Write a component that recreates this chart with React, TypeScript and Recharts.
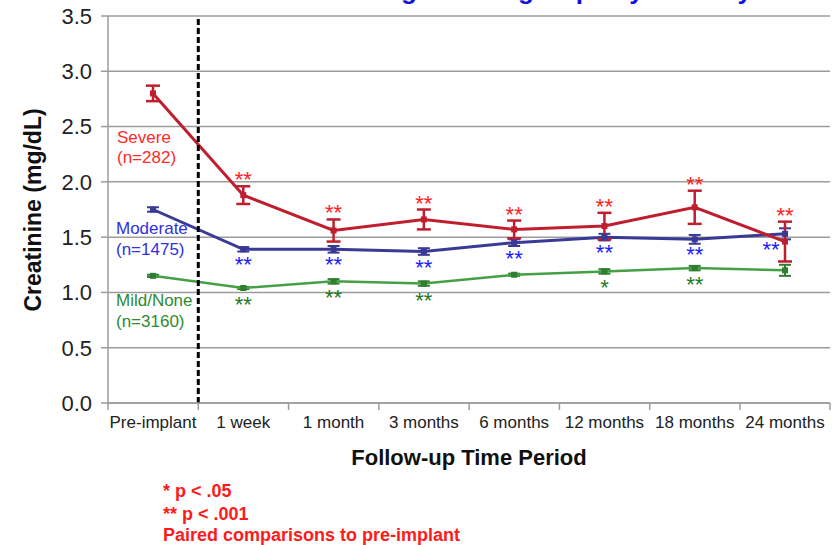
import React from 'react';
import {
  LineChart,
  Line,
  XAxis,
  YAxis,
  CartesianGrid,
  ErrorBar,
  LabelList,
  ReferenceLine,
} from 'recharts';

const periods = ['Pre-implant', '1 week', '1 month', '3 months', '6 months', '12 months', '18 months', '24 months'];

const severe = [2.8, 1.88, 1.56, 1.66, 1.57, 1.6, 1.77, 1.46];
const severeErr = [0.07, 0.08, 0.1, 0.09, 0.08, 0.12, 0.15, 0.18];
const severeSig = ['', '**', '**', '**', '**', '**', '**', '**'];

const moderate = [1.75, 1.39, 1.39, 1.37, 1.45, 1.5, 1.48, 1.53];
const moderateErr = [0.02, 0.02, 0.03, 0.03, 0.03, 0.03, 0.04, 0.05];
const moderateSig = ['', '**', '**', '**', '**', '**', '**', '**'];

const mild = [1.15, 1.04, 1.1, 1.08, 1.16, 1.19, 1.22, 1.2];
const mildErr = [0.01, 0.01, 0.02, 0.02, 0.01, 0.02, 0.02, 0.05];
const mildSig = ['', '**', '**', '**', '', '*', '**', ''];

const yTicks = [0, 0.5, 1, 1.5, 2, 2.5, 3, 3.5];

const data = periods.map((period, i) => ({
  period,
  severe: severe[i],
  severeErr: severeErr[i],
  severeTop: severe[i] + severeErr[i],
  severeSig: severeSig[i],
  moderate: moderate[i],
  moderateErr: moderateErr[i],
  moderateSig: moderateSig[i],
  mild: mild[i],
  mildErr: mildErr[i],
  mildSig: mildSig[i],
}));

const FONT = '"Liberation Sans", Arial, Helvetica, sans-serif';
const GRID = '#9c9c9c';
const HALF_STEP = 45;

const RED = '#bf1e2e';
const NAVY = '#3a3a96';
const GREEN = '#45a045';

// category label plus the boundary tick marks on either side of it
const PeriodTick = (props: any) => {
  const { x, y, payload, index } = props;
  const last = index === periods.length - 1;
  return (
    <g>
      <line x1={x - HALF_STEP} x2={x - HALF_STEP} y1={y} y2={y + 7} stroke={GRID} strokeWidth={1.5} />
      {last && <line x1={x + HALF_STEP} x2={x + HALF_STEP} y1={y} y2={y + 7} stroke={GRID} strokeWidth={1.5} />}
      <text x={x} y={y + 25} textAnchor="middle" fontSize={17} fontFamily={FONT} fill="#222">
        {payload.value}
      </text>
    </g>
  );
};

// divider drawn on the boundary just before the given category
const BoundaryLine = (props: any) => {
  const { x1, y1, y2 } = props;
  if (x1 == null) return null;
  const x = x1 - HALF_STEP;
  return <line x1={x} x2={x} y1={y1} y2={y2} stroke="#000" strokeWidth={3} strokeDasharray="6 3" />;
};

const Square = (color: string) => (props: any) => {
  const { cx, cy, index } = props;
  if (cx == null || cy == null) return <g key={index} />;
  return <rect key={index} x={cx - 3} y={cy - 3} width={6} height={6} fill={color} />;
};

const stars = (color: string, dy: number, nudgeLast = 0) => (props: any) => {
  const { x, y, value, index } = props;
  if (!value) return null;
  const dx = index === periods.length - 1 ? nudgeLast : 0;
  return (
    <text x={x + dx} y={y + dy} textAnchor="middle" fontSize={22} fontFamily={FONT} fill={color}>
      {value}
    </text>
  );
};

export default function App() {
  return (
    <div style={{ position: 'absolute', left: 0, top: 0, width: 836, height: 545, background: '#fff' }}>
      <LineChart width={836} height={545} data={data} margin={{ top: 16, right: 6, bottom: 112, left: 0 }}>
        <CartesianGrid vertical={false} stroke={GRID} strokeWidth={1.5} />
        <XAxis
          dataKey="period"
          padding={{ left: HALF_STEP, right: HALF_STEP }}
          axisLine={{ stroke: GRID, strokeWidth: 1.5 }}
          tickLine={false}
          tickSize={0}
          tickMargin={0}
          height={30}
          interval={0}
          tick={<PeriodTick />}
        />
        <YAxis
          domain={[0, 3.5]}
          ticks={yTicks}
          width={108}
          tickFormatter={(v: number) => v.toFixed(1)}
          tick={{ fontSize: 22, fill: '#222', fontFamily: FONT }}
          tickSize={7}
          tickMargin={9}
          tickLine={{ stroke: GRID, strokeWidth: 1.5 }}
          axisLine={{ stroke: GRID, strokeWidth: 1.5 }}
        />

        <Line
          dataKey="mild"
          stroke={GREEN}
          strokeWidth={2.5}
          dot={Square('#2f7d2f')}
          activeDot={false}
          isAnimationActive={false}
        >
          <ErrorBar dataKey="mildErr" width={6} stroke="#2f7d2f" strokeWidth={2} direction="y" />
          <LabelList dataKey="mildSig" content={stars('#1e7a1e', 24)} />
        </Line>

        <Line
          dataKey="moderate"
          stroke={NAVY}
          strokeWidth={3}
          dot={Square(NAVY)}
          activeDot={false}
          isAnimationActive={false}
        >
          <ErrorBar dataKey="moderateErr" width={6} stroke={NAVY} strokeWidth={2} direction="y" />
          <LabelList dataKey="moderateSig" content={stars('#1a1aff', 23, -14)} />
        </Line>

        <Line
          dataKey="severe"
          stroke={RED}
          strokeWidth={3}
          dot={Square(RED)}
          activeDot={false}
          isAnimationActive={false}
        >
          <ErrorBar dataKey="severeErr" width={7} stroke={RED} strokeWidth={2.5} direction="y" />
        </Line>

        {/* invisible series at the top of each red error bar, carrying the red stars */}
        <Line
          dataKey="severeTop"
          stroke="none"
          dot={false}
          activeDot={false}
          isAnimationActive={false}
        >
          <LabelList dataKey="severeSig" content={stars('#ff2020', 1)} />
        </Line>

        <ReferenceLine x={periods[1]} shape={<BoundaryLine />} />
      </LineChart>

      <svg
        width={836}
        height={545}
        style={{ position: 'absolute', left: 0, top: 0, pointerEvents: 'none' }}
        fontFamily={FONT}
      >
        <text x={752} y={-1} textAnchor="end" fontSize={26} fontWeight="bold" fill="#1010e0">
          Creatinine Change in Subgroups by Severity
        </text>

        <text
          transform="translate(33, 210) rotate(-90)"
          textAnchor="middle"
          dominantBaseline="central"
          fontSize={23}
          fontWeight="bold"
          fill="#111"
        >
          Creatinine (mg/dL)
        </text>

        <text x={469} y={465} textAnchor="middle" fontSize={22} fontWeight="bold" fill="#111">
          Follow-up Time Period
        </text>

        <g fontSize={17}>
          <text x={117} y={143} fill="#ff2a2a">Severe</text>
          <text x={117} y={163} fill="#ff2a2a">(n=282)</text>
          <text x={116} y={234} fill="#3030dd">Moderate</text>
          <text x={116} y={255} fill="#3030dd">(n=1475)</text>
          <text x={116} y={306} fill="#2e8b2e">Mild/None</text>
          <text x={116} y={327} fill="#2e8b2e">(n=3160)</text>
        </g>

        <g fontSize={18} fontWeight="bold" fill="#ff1a1a">
          <text x={163} y={497}>* p &lt; .05</text>
          <text x={163} y={520}>** p &lt; .001</text>
          <text x={163} y={541}>Paired comparisons to pre-implant</text>
        </g>
      </svg>
    </div>
  );
}
